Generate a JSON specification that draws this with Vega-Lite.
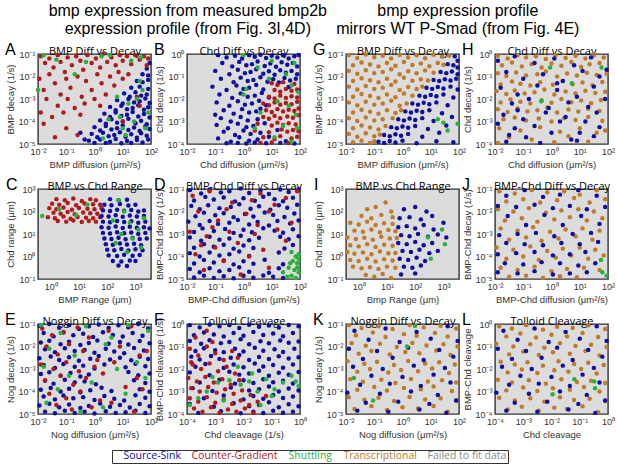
{
  "$schema": "https://vega.github.io/schema/vega-lite/v6.json",
  "padding": {"left": 4, "top": 3, "right": 0, "bottom": 0},
  "datasets": {
    "pts": [
      {"p": "A", "c": "Source-Sink", "x": [-0.2,0,0.2,0.4,0.55,0.75,0.95,1.15,1.3,1.5,1.7,1.9], "y": [-4.85,-4.95,-4.8,-4.95,-4.9,-4.78,-4.97,-4.87,-4.96,-4.82,-4.93,-4.8]},
      {"p": "A", "c": "Source-Sink", "x": [-0.1,0.1,0.3,0.5,0.7,0.9,1.1,1.3,1.5,1.65,1.85,-0.5,-0.35], "y": [-4.55,-4.7,-4.5,-4.65,-4.6,-4.48,-4.68,-4.57,-4.72,-4.52,-4.63,-4.5,-4.8]},
      {"p": "A", "c": "Source-Sink", "x": [0,0.2,0.4,0.6,0.8,1,1.2,1.4,1.6,1.8,1.95], "y": [-4.25,-4.4,-4.2,-4.35,-4.3,-4.18,-4.38,-4.27,-4.42,-4.22,-4.33]},
      {"p": "A", "c": "Source-Sink", "x": [0.2,0.4,0.6,0.8,1,1.2,1.45,1.65,1.85,0.35,0.55,0.75,0.95,1.15,1.35,1.55,1.75,1.95], "y": [-3.95,-4.1,-3.9,-4.05,-4,-3.88,-4.08,-3.97,-4.12,-3.65,-3.8,-3.6,-3.75,-3.7,-3.58,-3.78,-3.67,-3.82]},
      {"p": "A", "c": "Source-Sink", "x": [0.55,0.75,0.95,1.15,1.35,1.55,1.75,1.9,0.8,1,1.2,1.4,1.6,1.8,1.95], "y": [-3.35,-3.5,-3.3,-3.45,-3.4,-3.28,-3.48,-3.37,-3.05,-3.2,-3,-3.15,-3.1,-2.98,-3.18]},
      {"p": "A", "c": "Source-Sink", "x": [1.05,1.25,1.45,1.65,1.85,1.3,1.6,1.9,1.5,1.7,1.9,1.7,1.9,1.85,1.95], "y": [-2.75,-2.9,-2.7,-2.85,-2.8,-2.5,-2.45,-2.55,-2.2,-2.25,-2.15,-1.9,-1.95,-1.65,-1.4]},
      {"p": "A", "c": "Counter-Gradient", "x": [-1.9,-1.75,-1.6,-1.45,-1.3,-1.2,-1.05,-0.95,-0.8,-0.65,-0.5,-0.4,-0.25,-0.1,0.05], "y": [-1.1,-1.4,-1.2,-1.6,-1.05,-1.35,-1.8,-1.15,-1.5,-1.1,-1.3,-1.7,-1.05,-1.4,-1.2]},
      {"p": "A", "c": "Counter-Gradient", "x": [0.2,0.3,0.45,0.6,0.75,0.9,1,1.15,1.3,1.45,1.6,1.75,1.9,1.85], "y": [-1.6,-1,-1.35,-1.15,-1.5,-1.05,-1.3,-1.1,-1.45,-1.05,-1.25,-1.1,-1.2,-1.5]},
      {"p": "A", "c": "Counter-Gradient", "x": [-1.95,-1.8,-1.6,-1.4,-1.2,-1,-0.85,-0.6,-0.45,-0.3,-0.1,0.1,0.25,0.4,0.55,0.7,0.85,1,1.2], "y": [-2.1,-2.6,-1.9,-2.3,-2.8,-2.1,-2.5,-2,-2.9,-2.2,-2.6,-1.9,-2.3,-2.8,-2,-2.4,-1.8,-2.1,-1.9]},
      {"p": "A", "c": "Counter-Gradient", "x": [-1.7,-1.3,-0.95,-0.7,-0.35,0,0.2,-1.9,-1.5,-1.1,-0.5,-1.8,-1,-0.6,-1.4,1.5,1,1.6], "y": [-3,-3.3,-3,-3.4,-3.2,-3,-3.3,-3.6,-3.8,-3.6,-3.7,-4.1,-4.3,-4.6,-4.7,-2.9,-4,-3.3]},
      {"p": "A", "c": "Shuttling", "x": [-1.8,-1.35,-0.3,0.25,0.55,1.3,1.65,-0.7,-2,0.9,1.2,1.5,1.7,1.4,0.5,1.8,1.1,0.3,1.9,1.6,1,0.8], "y": [-1.05,-1.25,-1.35,-1.1,-1.05,-1.3,-1.15,-1.9,-2.6,-3.8,-3.2,-3,-2.6,-4,-3.9,-4.3,-4.6,-4.75,-3.6,-2.2,-4.3,-2.9]},

      {"p": "B", "c": "Source-Sink", "x": [-0.9,-0.6,-0.3,-0.05,0.2,0.4,0.6,0.8,1,1.2,1.4,1.6,1.8,1.95], "y": [-0.05,-0.15,-0.08,-0.2,-0.05,-0.12,-0.03,-0.18,-0.08,-0.15,-0.05,-0.2,-0.1,-0.04]},
      {"p": "B", "c": "Source-Sink", "x": [-0.75,-0.4,-0.15,0.1,0.3,0.5,0.75,0.95,1.15,1.35,1.55,1.75,1.9], "y": [-0.4,-0.55,-0.35,-0.5,-0.45,-0.33,-0.53,-0.42,-0.57,-0.37,-0.48,-0.4,-0.55]},
      {"p": "B", "c": "Source-Sink", "x": [-1,-0.5,-0.2,0.05,0.25,0.45,0.7,0.9,1.1,1.3,1.5,1.7,1.9], "y": [-0.75,-0.9,-0.7,-0.85,-0.8,-0.68,-0.88,-0.77,-0.92,-0.72,-0.83,-0.75,-0.9]},
      {"p": "B", "c": "Source-Sink", "x": [-0.8,-0.35,-0.1,0.15,0.35,0.6,0.85,1.05,1.25,1.45,1.65,1.85], "y": [-1.1,-1.25,-1.05,-1.2,-1.15,-1.03,-1.23,-1.12,-1.27,-1.07,-1.18,-1.1]},
      {"p": "B", "c": "Source-Sink", "x": [-1.1,-0.6,-0.25,0,0.2,0.45,0.7,1.6,1.95,-0.85,-0.4,-0.1,0.15,0.4,0.65,0.9], "y": [-1.45,-1.6,-1.4,-1.55,-1.5,-1.38,-1.58,-1.47,-1.62,-1.8,-1.95,-1.75,-1.9,-1.85,-1.73,-1.93]},
      {"p": "B", "c": "Source-Sink", "x": [-0.95,-0.5,-0.2,0.05,0.3,0.55,0.8,-0.7,-0.35,-0.05,0.2,0.45,-1,0.6], "y": [-2.15,-2.3,-2.1,-2.25,-2.2,-2.08,-2.28,-2.5,-2.65,-2.45,-2.6,-2.55,-2.7,-2.43]},
      {"p": "B", "c": "Source-Sink", "x": [-0.8,-0.45,-0.1,0.15,0.5,-0.95,-0.55,-0.2,0.1,0.35,0.75,-0.7,-0.3,0,0.25,0.6,1.2], "y": [-2.85,-3,-2.8,-2.95,-2.9,-3.15,-3.3,-3.1,-3.25,-3.2,-3.08,-3.45,-3.6,-3.4,-3.55,-3.5,-3.38]},
      {"p": "B", "c": "Source-Sink", "x": [-0.9,-0.45,-0.15,0.2,0.5,0.9,1.5,-0.6,-0.2,0.1,0.4,0.8,1.3,1.8], "y": [-3.75,-3.9,-3.7,-3.85,-3.8,-3.68,-3.88,-3.97,-3.95,-3.98,-3.93,-3.97,-3.95,-3.98]},
      {"p": "B", "c": "Counter-Gradient", "x": [1,1.2,1.4,1.8,1.1,1.3,1.5,1.7,1.9,0.9,1.1,1.3,1.5,1.7,1.9,0.7,0.9,1.1,1.3,1.5,1.7,1.9], "y": [-1.3,-1.38,-1.25,-1.33,-1.6,-1.68,-1.55,-1.63,-1.58,-1.9,-1.98,-1.85,-1.95,-1.88,-1.93,-2.2,-2.28,-2.15,-2.25,-2.18,-2.23,-2.12]},
      {"p": "B", "c": "Counter-Gradient", "x": [0.8,1,1.2,1.4,1.6,1.8,1.95,0.7,0.9,1.1,1.3,1.55,1.75,1.95], "y": [-2.5,-2.58,-2.45,-2.55,-2.48,-2.53,-2.42,-2.8,-2.88,-2.75,-2.85,-2.78,-2.83,-2.72]},
      {"p": "B", "c": "Counter-Gradient", "x": [0.5,1,1.2,1.4,1.6,1.85,0.4,0.9,1.35,1.55,1.75,1.95,0.7,1.1,1.3,1.7,1.9,0.6,1,1.6], "y": [-3.1,-3.18,-3.05,-3.15,-3.08,-3.13,-3.4,-3.48,-3.35,-3.45,-3.38,-3.43,-3.7,-3.78,-3.65,-3.75,-3.68,-3.95,-3.93,-3.96]},
      {"p": "B", "c": "Shuttling", "x": [0,0.5,1,1.5,1.8,0.9,1.7,0.1,1.95,1.2,1.6,1.85,0.6,1.4,1.9,1.1,0.4,1.7,0], "y": [-0.05,-0.6,-0.3,-0.9,-0.4,-1.1,-1.4,-1.55,-1.7,-2.1,-2.3,-2.7,-2.6,-3.2,-3.3,-3.7,-3.3,-3.9,-1.8]},

      {"p": "C", "c": "Counter-Gradient", "x": [0.2,0.5,0.8,1.1,1.4,1.6,0.05,0.3,0.6,0.9,1.2,1.5,1.75], "y": [2.55,2.5,2.58,2.47,2.55,2.5,2.35,2.3,2.38,2.28,2.36,2.32,2.3]},
      {"p": "C", "c": "Counter-Gradient", "x": [-0.05,0.2,0.45,0.75,1,1.3,1.55,1.8,0.1,0.35,0.6,0.85,1.15,1.4,1.65], "y": [2.15,2.1,2.18,2.08,2.16,2.12,2.1,2.15,1.95,1.9,1.98,1.88,1.96,1.92,1.9]},
      {"p": "C", "c": "Counter-Gradient", "x": [-0.1,0.15,0.45,0.7,0.95,1.25,1.5,1.75,0.25,0.55,0.8,1.1,1.35,1.6], "y": [1.75,1.7,1.78,1.68,1.76,1.72,1.7,1.75,1.58,1.55,1.6,1.53,1.58,1.55]},
      {"p": "C", "c": "Source-Sink", "x": [2.1,2.4,2.7,1.9,2.15,2.45,2.75,3,1.85,2.1,2.35,2.6,2.85,3.1,3.3,1.8,2.05,2.3,2.55,2.8,3.05,3.3], "y": [2.55,2.5,2.52,2.3,2.28,2.33,2.27,2.3,2.05,2.02,2.08,2.03,2.07,2,2.05,1.8,1.78,1.83,1.77,1.82,1.78,1.8]},
      {"p": "C", "c": "Source-Sink", "x": [1.85,2.1,2.35,2.6,2.85,3.1,3.35,1.8,2.05,2.3,2.55,2.8,3.05,3.3,3.5], "y": [1.55,1.52,1.58,1.53,1.57,1.5,1.55,1.3,1.28,1.33,1.27,1.32,1.28,1.3,1.25]},
      {"p": "C", "c": "Source-Sink", "x": [1.85,2.1,2.35,2.6,2.85,3.1,3.35,1.9,2.15,2.4,2.65,2.9,3.15,3.4], "y": [1.05,1.02,1.08,1.03,1.07,1,1.05,0.8,0.78,0.83,0.77,0.82,0.78,0.8]},
      {"p": "C", "c": "Source-Sink", "x": [1.95,2.2,2.45,2.7,2.95,3.2,2,2.25,2.5,2.75,3,3.25,2.05,2.35,2.6,2.9,3.15,2.2,2.5,2.8,3,2.4,2.7], "y": [0.55,0.52,0.58,0.53,0.57,0.5,0.3,0.28,0.33,0.27,0.32,0.28,0.05,0.02,0.08,0.03,0.07,-0.2,-0.22,-0.18,-0.2,-0.4,-0.42]},
      {"p": "C", "c": "Shuttling", "x": [-0.3,0.3,0.9,1.3,2.4,2.6,2.2,2.8,3.1,2.5,2.9,2.3,3.2,2.7,3.3], "y": [1.8,2.1,1.85,2.3,2.5,2,1.6,1.5,1.2,1,0.8,0.6,0.4,0.2,1.7]},

      {"p": "D", "c": "Source-Sink", "x": [-1.9,-1.5,-1.2,-0.8,-0.5,-0.1,0.2,0.6,0.9,1.3,1.6,1.95,-1.75,-1.35,-1.05,-0.7,-0.3,0,0.4,0.7,1.1,1.4,1.75], "y": [-1.05,-1.2,-1.02,-1.15,-1.1,-0.98,-1.18,-1.07,-1.22,-1.02,-1.13,-1,-1.51,-1.35,-1.47,-1.38,-1.55,-1.41,-1.52,-1.34,-1.45,-1.54,-1.39]},
      {"p": "D", "c": "Source-Sink", "x": [-1.85,-1.55,-1.25,-0.85,-0.45,-0.15,0.25,0.55,0.95,1.25,1.55,1.9,-1.7,-1.4,-1,-0.7,-0.35,0.05,0.35,0.75,1.05,1.45,1.8], "y": [-1.75,-1.9,-1.72,-1.85,-1.8,-1.68,-1.88,-1.77,-1.92,-1.72,-1.83,-1.7,-2.21,-2.05,-2.17,-2.08,-2.25,-2.11,-2.22,-2.04,-2.15,-2.24,-2.09]},
      {"p": "D", "c": "Source-Sink", "x": [-1.95,-1.55,-1.2,-0.9,-0.5,-0.2,0.2,0.5,0.9,1.2,1.65,1.95,-1.75,-1.45,-1.05,-0.65,-0.35,0,0.3,0.7,1.1,1.4,1.75], "y": [-2.45,-2.6,-2.42,-2.55,-2.5,-2.38,-2.58,-2.47,-2.62,-2.42,-2.53,-2.4,-2.91,-2.75,-2.87,-2.78,-2.95,-2.81,-2.92,-2.74,-2.85,-2.94,-2.79]},
      {"p": "D", "c": "Source-Sink", "x": [-1.9,-1.5,-1.2,-0.85,-0.5,-0.1,0.2,0.55,1.3,1.6,1.95,-1.75,-1.4,-1.05,-0.7,-0.35,0,0.35,1.45,1.75], "y": [-3.15,-3.3,-3.12,-3.25,-3.2,-3.08,-3.28,-3.17,-3.12,-3.23,-3.1,-3.61,-3.45,-3.57,-3.48,-3.65,-3.51,-3.62,-3.64,-3.49]},
      {"p": "D", "c": "Source-Sink", "x": [-1.9,-1.55,-1.2,-0.85,-0.5,-0.15,0.2,1.25,-1.75,-1.4,-1.05,-0.7,-0.35,0,0.35,0.75,1.4], "y": [-3.85,-4,-3.82,-3.95,-3.9,-3.78,-3.98,-3.82,-4.31,-4.15,-4.27,-4.18,-4.35,-4.21,-4.32,-4.14,-4.34]},
      {"p": "D", "c": "Source-Sink", "x": [-1.9,-1.55,-1.2,-0.85,-0.5,-0.15,0.2,0.9,1.25,-1.75,-1.4,-1.05,-0.7,-0.35,0,0.35,0.7,1.05,1.4], "y": [-4.55,-4.7,-4.52,-4.65,-4.6,-4.48,-4.68,-4.72,-4.52,-4.93,-4.85,-4.95,-4.88,-4.97,-4.86,-4.94,-4.84,-4.9,-4.95]},
      {"p": "D", "c": "Counter-Gradient", "x": [-1.8,-1.2,-0.4,0.6,1.5,1.9,-1.6,-0.9,0.1,0.9,1.7,-1.9,-1.3,-0.5,0.4,1.2,-1,-0.2,0.7,1.5,-1.7,-0.7,0.2,-1.4,-0.1,0.9,-1.1,0.3,-0.6,1.1,-1.5,0.5], "y": [-1.3,-1.1,-1.6,-1.2,-1.4,-1.1,-2,-2.4,-2.1,-2,-2.5,-2.9,-3.1,-2.9,-3,-2.8,-3.6,-3.4,-3.7,-3.3,-3.9,-4.2,-4,-4.6,-4.8,-4.5,-2.7,-1.5,-1.9,-1.7,-3.5,-2.6]},
      {"p": "D", "c": "Shuttling", "x": [1.7,1.85,1.95,1.75,1.9,1.6,1.8,1.95,1.7,1.85,1.55,1.9,1.65,1.95,1.4], "y": [-3.8,-4,-3.9,-4.2,-4.3,-4.5,-4.6,-4.7,-4.85,-4.95,-4.9,-4.5,-4.3,-4.1,-4.7]},

      {"p": "E", "c": "Source-Sink", "x": [-1.95,-1.6,-1.25,-0.9,-0.55,-0.2,0.15,0.5,0.85,1.2,1.55,1.9,-1.8,-1.45,-1.1,-0.75,-0.4,-0.05,0.3,0.65,1,1.35,1.7], "y": [-1.08,-1,-1.17,-1.05,-1.22,-1.1,-1.02,-1.18,-1.06,-1.14,-1,-1.2,-1.4,-1.55,-1.38,-1.5,-1.43,-1.58,-1.37,-1.49,-1.56,-1.4,-1.52]},
      {"p": "E", "c": "Source-Sink", "x": [-1.9,-1.6,-1.2,-0.9,-0.5,-0.2,0.1,0.5,0.9,1.2,1.6,1.95,-1.75,-1.4,-1.05,-0.7,-0.35,0,0.4,0.7,1.05,1.4,1.75], "y": [-1.82,-1.74,-1.9,-1.79,-1.93,-1.84,-1.73,-1.88,-1.8,-1.91,-1.76,-1.86,-2.12,-2.25,-2.08,-2.2,-2.15,-2.28,-2.1,-2.22,-2.3,-2.07,-2.18]},
      {"p": "E", "c": "Source-Sink", "x": [-1.95,-1.55,-1.25,-0.9,-0.55,-0.15,0.15,0.55,0.9,1.3,1.6,1.9,-1.8,-1.4,-1.1,-0.7,-0.4,0,0.35,1.1,1.45,1.8], "y": [-2.52,-2.44,-2.6,-2.48,-2.63,-2.54,-2.42,-2.58,-2.5,-2.61,-2.46,-2.56,-2.82,-2.95,-2.78,-2.9,-2.85,-2.98,-2.8,-2.92,-2.77,-2.88]},
      {"p": "E", "c": "Source-Sink", "x": [-1.9,-1.6,-1.2,-0.85,-0.5,-0.2,1.2,1.55,1.95,-1.75,-1.45,-1.05,-0.7,-0.35,0.05,1.4,1.8], "y": [-3.22,-3.14,-3.3,-3.18,-3.33,-3.24,-3.13,-3.28,-3.2,-3.52,-3.65,-3.48,-3.6,-3.55,-3.68,-3.5,-3.62]},
      {"p": "E", "c": "Source-Sink", "x": [-1.9,-1.55,-1.2,-0.9,-0.5,-0.15,0.25,0.6,1.6,1.95,-1.8,-1.4,-1.1,-0.75,-0.4,0,0.35,0.7,1.05,1.45,1.8], "y": [-3.92,-3.84,-4,-3.88,-4.03,-3.94,-3.83,-3.98,-3.9,-4.01,-4.22,-4.35,-4.18,-4.3,-4.25,-4.38,-4.2,-4.32,-4.4,-4.17,-4.28]},
      {"p": "E", "c": "Source-Sink", "x": [-1.95,-1.6,-1.25,-0.9,-0.5,-0.2,0.2,0.55,0.9,1.25,1.6,1.95,-1.75,-1.4,-1.05,-0.7,-0.35,0,0.4,0.75,1.1,1.45,1.8], "y": [-4.62,-4.54,-4.7,-4.58,-4.73,-4.64,-4.53,-4.68,-4.6,-4.71,-4.56,-4.66,-4.9,-4.97,-4.86,-4.95,-4.9,-4.98,-4.88,-4.95,-4.92,-4.85,-4.96]},
      {"p": "E", "c": "Counter-Gradient", "x": [-1.85,-1.5,-1.1,-0.6,-0.2,0.5,1.3,-1.7,-1.3,-0.9,-0.4,0.1,0.9,1.6,-1.9,-1.45,-1,-0.55,0,0.7,1.5,-1.75,-1.2,-0.75,-0.3,0.3,1.1,-1.6,-1,-0.5,0.2,1.7,-1.35,-0.8,-0.1,0.6,1.4,1.85], "y": [-1.2,-1.5,-1.35,-1.15,-1.6,-1.3,-1.1,-2,-2.35,-1.9,-2.2,-2.6,-2,-2.4,-2.8,-3,-2.7,-3.1,-2.9,-2.7,-3.4,-3.5,-3.3,-3.7,-3.4,-3.2,-3.8,-4.1,-4.3,-4,-4.4,-3.9,-4.6,-4.8,-4.7,-4.5,-4.9,-2.2]},
      {"p": "E", "c": "Shuttling", "x": [-1.9,-1.2,-0.3,0.6,1.2,1.9,-1.6,-0.7,0.4,1.5,-1.8,-0.9,0.8,1.8,-1.3,-0.1,1.1,-1.7,-0.5,0.3], "y": [-1.05,-1.4,-1.1,-1.6,-1.05,-1.3,-2.1,-2.4,-1.9,-2.7,-2.9,-3.3,-3,-3.4,-3.9,-3.6,-4.1,-4.5,-4.9,-4.7]},

      {"p": "F", "c": "Source-Sink", "x": [-3.9,-3.55,-3.2,-2.85,-2.5,-2.15,-1.8,-1.45,-1.1,-0.75,-0.4,-0.05,-3.75,-3.4,-3.05,-2.7,-2.35,-2,-1.65,-1.3,-0.95,-0.6,-0.25], "y": [-0.05,-0.15,-0.02,-0.1,-0.05,-0.18,-0.03,-0.12,-0.07,-0.16,-0.04,-0.1,-0.5,-0.38,-0.47,-0.55,-0.4,-0.52,-0.36,-0.49,-0.42,-0.54,-0.4]},
      {"p": "F", "c": "Source-Sink", "x": [-3.9,-3.5,-3.2,-2.8,-2.5,-2.1,-1.8,-1.4,-1.1,-0.7,-0.4,-0.05,-3.7,-3.4,-3,-2.7,-2.3,-2,-1.6,-1.3,-0.9,-0.6,-0.2], "y": [-0.75,-0.88,-0.72,-0.85,-0.8,-0.68,-0.9,-0.77,-0.86,-0.73,-0.83,-0.78,-1.2,-1.08,-1.17,-1.25,-1.1,-1.22,-1.06,-1.19,-1.12,-1.24,-1.1]},
      {"p": "F", "c": "Source-Sink", "x": [-3.85,-3.55,-3.15,-2.85,-2.45,-2.15,-1.8,-1.45,-1.1,-0.75,-0.4,-0.05,-3.7,-3.35,-2.7,-2.35,-2,-1.6,-1.3,-0.95,-0.6,-0.25], "y": [-1.45,-1.58,-1.42,-1.55,-1.5,-1.38,-1.6,-1.47,-1.56,-1.43,-1.53,-1.48,-1.9,-1.78,-1.95,-1.8,-1.92,-1.76,-1.89,-1.82,-1.94,-1.8]},
      {"p": "F", "c": "Source-Sink", "x": [-3.9,-3.2,-2.5,-2.15,-1.8,-1.45,-1.1,-0.75,-0.4,-0.05,-3.55,-2.85,-2.3,-2,-1.65,-1.3,-0.95,-0.6,-0.25], "y": [-2.15,-2.28,-2.12,-2.25,-2.2,-2.08,-2.3,-2.17,-2.26,-2.13,-2.6,-2.48,-2.65,-2.5,-2.62,-2.46,-2.59,-2.52,-2.64]},
      {"p": "F", "c": "Source-Sink", "x": [-3.8,-3.1,-2.45,-1.8,-1.45,-1.1,-0.75,-0.4,-0.05,-3.4,-2.7,-2,-1.65,-1.3,-0.95,-0.6,-0.25], "y": [-2.85,-2.98,-2.82,-2.95,-2.9,-2.78,-3,-2.87,-2.96,-3.3,-3.18,-3.35,-3.2,-3.32,-3.16,-3.29,-3.22]},
      {"p": "F", "c": "Source-Sink", "x": [-3.9,-3.05,-2.35,-1.8,-1.45,-1.1,-0.75,-0.4,-0.05,-3.6,-2.8,-2.1,-1.65,-1.3,-0.95,-0.6,-0.25], "y": [-3.55,-3.68,-3.52,-3.65,-3.6,-3.48,-3.7,-3.57,-3.66,-3.95,-3.88,-3.97,-3.9,-3.96,-3.86,-3.94,-3.9]},
      {"p": "F", "c": "Counter-Gradient", "x": [-3.9,-3.6,-3.3,-3,-2.7,-3.8,-3.5,-3.2,-2.9,-2.6,-2.3,-3.95,-3.65,-3.35,-3.05,-2.75,-2.45,-2.15,-3.85,-3.55,-3.25,-2.95,-2.65,-2.35,-2.05,-1.75], "y": [-1.1,-1.4,-1,-1.3,-1.6,-1.8,-2,-1.75,-2.1,-1.9,-2.2,-2.4,-2.55,-2.35,-2.6,-2.45,-2.7,-2.5,-2.85,-3,-2.8,-3.05,-2.9,-3.1,-2.95,-3.15]},
      {"p": "F", "c": "Counter-Gradient", "x": [-3.9,-3.6,-3.3,-3,-2.7,-2.4,-2.1,-1.8,-1.5,-3.75,-3.45,-3.15,-2.85,-2.55,-2.25,-1.95,-1.65,-3.7,-3.3,-2.4,-3.85,-3.1,-2.2,-1.2], "y": [-3.3,-3.45,-3.25,-3.5,-3.35,-3.55,-3.4,-3.6,-3.45,-3.75,-3.9,-3.7,-3.95,-3.8,-3.9,-3.75,-3.95,-0.6,-0.3,-1.2,-1.7,-0.8,-1.5,-3.2]},
      {"p": "F", "c": "Shuttling", "x": [-3.9,-3.3,-2.9,-2.5,-2.1,-1.8,-1.5,-1.2,-0.9,-0.6,-0.3,-0.05,-3.6,-2.7,-1.7,-1,-0.15,-2.2,-3.1,-1.4], "y": [-3.6,-3,-2.6,-2.5,-2.7,-2.55,-3,-2.45,-2.9,-2.6,-2.3,-2.75,-3.3,-3.4,-2.2,-3.2,-2.55,-1.9,-2.35,-3.6]},

      {"p": "G", "c": "Transcriptional", "x": [-1.9,-1.6,-1.3,-1,-0.7,-0.4,-0.1,0.2,0.5,0.8,1.1,1.4,1.65,-1.75,-1.45,-1.15,-0.85,-0.55,-0.25,0.05,0.35,0.65,0.95,1.25,1.45], "y": [-1.05,-1.18,-1.02,-1.14,-1.08,-1.2,-1.04,-1.15,-1.06,-1.19,-1.03,-1.12,-1.08,-1.5,-1.38,-1.47,-1.55,-1.4,-1.52,-1.36,-1.49,-1.42,-1.54,-1.4,-1.48]},
      {"p": "G", "c": "Transcriptional", "x": [-1.9,-1.6,-1.3,-1,-0.7,-0.4,-0.1,0.2,0.5,0.8,1.1,-1.75,-1.45,-1.15,-0.85,-0.55,-0.25,0.05,0.35,0.65,0.9], "y": [-1.75,-1.88,-1.72,-1.85,-1.8,-1.68,-1.9,-1.77,-1.86,-1.73,-1.83,-2.2,-2.08,-2.17,-2.25,-2.1,-2.22,-2.06,-2.19,-2.12,-2.18]},
      {"p": "G", "c": "Transcriptional", "x": [-1.9,-1.6,-1.3,-1,-0.7,-0.4,-0.1,0.2,0.5,0.7,-1.75,-1.45,-1.15,-0.85,-0.55,-0.25,0.05,0.35], "y": [-2.45,-2.58,-2.42,-2.55,-2.5,-2.38,-2.6,-2.47,-2.56,-2.45,-2.9,-2.78,-2.87,-2.95,-2.8,-2.92,-2.76,-2.85]},
      {"p": "G", "c": "Transcriptional", "x": [-1.9,-1.6,-1.3,-1,-0.7,-0.4,-0.1,0.15,-1.75,-1.45,-1.15,-0.85,-0.55,-0.25,-0.05,-1.9,-1.6,-1.3,-1,-0.7,-0.35], "y": [-3.15,-3.28,-3.12,-3.25,-3.2,-3.08,-3.3,-3.2,-3.6,-3.48,-3.57,-3.65,-3.5,-3.62,-3.5,-3.85,-3.98,-3.82,-3.95,-3.9,-3.85]},
      {"p": "G", "c": "Transcriptional", "x": [-1.75,-1.45,-1.15,-0.85,-0.6,-1.9,-1.6,-1.3,-1,-0.8,-1.75,-1.45,-1.15,-1], "y": [-4.3,-4.18,-4.27,-4.35,-4.2,-4.55,-4.68,-4.52,-4.65,-4.58,-4.92,-4.85,-4.95,-4.88]},
      {"p": "G", "c": "Source-Sink", "x": [1.85,1.95,1.6,1.8,1.95,1.35,1.55,1.75,1.95,1.1,1.3,1.5,1.7,1.9,0.85,1.05,1.25,1.45,1.7,1.95], "y": [-1.1,-1.3,-1.45,-1.5,-1.6,-1.8,-1.85,-1.78,-1.9,-2.15,-2.2,-2.12,-2.18,-2.1,-2.5,-2.55,-2.47,-2.53,-2.45,-2.58]},
      {"p": "G", "c": "Source-Sink", "x": [0.6,0.8,1,1.2,1.45,1.8,0.35,0.55,0.75,0.95,1.2,1.6,0.1,0.3,0.5,0.7,0.95,1.4,-0.15,0.05,0.25,0.45,0.7,1.1,1.75], "y": [-2.85,-2.9,-2.82,-2.88,-2.8,-2.93,-3.2,-3.25,-3.17,-3.23,-3.15,-3.28,-3.55,-3.6,-3.52,-3.58,-3.5,-3.63,-3.9,-3.95,-3.87,-3.93,-3.85,-3.98,-3.8]},
      {"p": "G", "c": "Source-Sink", "x": [-0.4,-0.2,0,0.2,0.45,0.9,1.55,-0.65,-0.45,-0.25,-0.05,0.2,0.7,1.3,-0.85,-0.65,-0.45,-0.25,0,0.5,1.2,1.8], "y": [-4.25,-4.3,-4.22,-4.28,-4.2,-4.33,-4.18,-4.6,-4.65,-4.57,-4.63,-4.55,-4.68,-4.5,-4.9,-4.95,-4.87,-4.93,-4.85,-4.97,-4.88,-4.92]},
      {"p": "G", "c": "Shuttling", "x": [1.25,1.45,1.6,1.95], "y": [-3.9,-4.05,-4.4,-4.1]},

      {"p": "H", "c": "Transcriptional", "x": [-1.9,-1.55,-1.2,-0.9,-0.55,-0.2,0.15,0.5,0.85,1.2,1.5,1.85,-1.75,-1.4,-1.05,-0.7,-0.35,0,0.35,0.7,1.05,1.35,1.7], "y": [-0.08,-0.2,-0.05,-0.15,-0.1,-0.22,-0.04,-0.18,-0.08,-0.2,-0.06,-0.16,-0.5,-0.38,-0.55,-0.45,-0.6,-0.42,-0.52,-0.36,-0.58,-0.46,-0.4]},
      {"p": "H", "c": "Transcriptional", "x": [-1.9,-1.6,-1.25,-0.9,-0.5,-0.2,0.2,0.55,0.9,1.25,1.6,1.95,-1.8,-1.4,-1.1,-0.75,-0.4,0.05,0.4,0.75,1.1,1.45,1.8], "y": [-0.85,-0.98,-0.82,-0.95,-0.9,-0.78,-1,-0.87,-0.96,-0.83,-0.93,-0.88,-1.35,-1.22,-1.32,-1.4,-1.25,-1.37,-1.2,-1.34,-1.27,-1.39,-1.24]},
      {"p": "H", "c": "Transcriptional", "x": [-1.95,-1.6,-1.3,-0.95,-0.6,-0.25,0.1,0.5,0.85,1.2,1.55,1.9,-1.8,-1.45,-1.1,-0.75,-0.35,0,0.35,0.7,1.05,1.4,1.75], "y": [-1.65,-1.78,-1.62,-1.75,-1.7,-1.58,-1.8,-1.67,-1.76,-1.63,-1.73,-1.68,-2.15,-2.02,-2.12,-2.2,-2.05,-2.17,-2,-2.14,-2.07,-2.19,-2.04]},
      {"p": "H", "c": "Transcriptional", "x": [-1.9,-1.55,-1.2,-0.85,-0.5,-0.15,0.2,0.6,0.95,1.3,1.7,-1.7,-1.3,-0.9,-0.45,0,0.45,0.85,1.3,1.8], "y": [-2.45,-2.58,-2.42,-2.55,-2.5,-2.38,-2.6,-2.47,-2.56,-2.43,-2.53,-2.9,-2.82,-2.95,-2.87,-3,-2.85,-2.93,-2.8,-2.97]},
      {"p": "H", "c": "Transcriptional", "x": [-1.85,-1.1,-0.4,0.3,1,1.6,-1.5,-0.7,0.6,1.3,-1.9,0.1,1.9], "y": [-3.3,-3.4,-3.25,-3.45,-3.3,-3.5,-3.7,-3.8,-3.65,-3.9,-3.95,-3.92,-3.4]},
      {"p": "H", "c": "Source-Sink", "x": [-1.9,-1.3,-0.6,0.1,0.8,1.4,1.95,-1.6,-1,-0.3,0.4,1.1,1.7,-1.8,-1.2,-0.5,0.2,0.9,1.5,-1.4,-0.8,-0.1,0.6,1.3,1.9,-1.7,-1,-0.2,0.5,1.2,-1.9,-1.3,-0.6,0.3,1,1.7,-1.5,-0.9,0,0.7,1.5,-1.6,-0.4,0.9,-1.2,0.2,1.6], "y": [-0.3,-0.1,-0.4,-0.2,-0.5,-0.15,-0.7,-0.8,-1.1,-0.9,-1.2,-0.75,-1,-1.5,-1.8,-1.4,-1.6,-1.9,-1.45,-2.2,-2,-2.4,-2.15,-2.35,-2,-2.7,-2.9,-2.6,-2.8,-3,-3.1,-3.3,-3.2,-3,-3.5,-3.25,-3.6,-3.7,-3.5,-3.8,-3.65,-3.9,-3.95,-3.85,-2.5,-1.3,-2.6]},
      {"p": "H", "c": "Shuttling", "x": [-0.05,0.72,-0.36,1.77], "y": [-0.6,-1.3,-2.1,-0.6]},

      {"p": "I", "c": "Transcriptional", "x": [0.95,0.3,0.6,1.15,0.1,0.45,0.8,1.2,-0.3,0,0.3,0.6,0.9,1.2,-0.15,0.15,0.45,0.75,1.05,1.3], "y": [2.4,2.1,2.2,2,1.8,1.7,1.85,1.75,1.5,1.42,1.55,1.4,1.48,1.45,1.15,1.1,1.2,1.08,1.18,1.12]},
      {"p": "I", "c": "Transcriptional", "x": [-0.4,-0.1,0.2,0.5,0.8,1.1,1.35,-0.3,0,0.3,0.6,0.9,1.2,-0.4,-0.15,0.15,0.45,0.75,1.05,1.3], "y": [0.85,0.78,0.83,0.75,0.88,0.8,0.82,0.5,0.45,0.55,0.42,0.52,0.48,0.2,0.12,0.18,0.1,0.22,0.14,0.16]},
      {"p": "I", "c": "Transcriptional", "x": [-0.3,0,0.3,0.6,0.9,1.2,-0.2,0.1,0.4,0.7,1,1.3,0.25,0.55,0.85,1.15], "y": [-0.15,-0.2,-0.1,-0.22,-0.12,-0.18,-0.45,-0.52,-0.48,-0.55,-0.45,-0.5,-0.82,-0.9,-0.78,-0.95]},
      {"p": "I", "c": "Source-Sink", "x": [1.6,2,2.4,1.45,1.8,2.2,2.6,3,1.4,1.7,2,2.3,2.65,1.5,1.8,2.1,2.45,2.8,3.1], "y": [2.1,2.2,2,1.7,1.75,1.65,1.8,1.5,1.3,1.35,1.25,1.4,1.2,0.95,0.9,1,0.88,0.98,0.85]},
      {"p": "I", "c": "Source-Sink", "x": [1.4,1.7,2,2.3,2.6,1.55,1.85,2.15,2.5,2.8,1.45,1.75,2.05,2.35,1.6,1.9,2.2,1.5,2], "y": [0.6,0.55,0.65,0.5,0.6,0.25,0.2,0.3,0.15,0.25,-0.1,-0.15,-0.05,-0.2,-0.45,-0.5,-0.4,-0.8,-0.75]},
      {"p": "I", "c": "Shuttling", "x": [2.45,2.95,3.05,2.55], "y": [0.85,1.2,0.55,-0.1]},

      {"p": "J", "c": "Transcriptional", "x": [-1.85,-1.3,-0.7,-0.15,0.45,1,1.6,-1.6,-1,-0.4,0.2,0.8,1.35,1.9,-1.9,-1.35,-0.8,-0.2,0.35,0.95,1.5,-1.65,-1.05,-0.5,0.1,0.65,1.25,1.8], "y": [-1.1,-1.2,-1.05,-1.15,-1.1,-1.25,-1.05,-1.55,-1.45,-1.6,-1.5,-1.4,-1.6,-1.45,-1.9,-2,-1.85,-2.05,-1.95,-1.9,-2,-2.4,-2.3,-2.45,-2.35,-2.25,-2.4,-2.3]},
      {"p": "J", "c": "Transcriptional", "x": [-1.8,-1.2,-0.65,-0.05,0.5,1.1,1.7,-1.5,-0.9,-0.35,0.25,0.85,1.45,-1.95,-1.35,-0.75,-0.15,0.4,1,1.55,-1.6,-1,-0.45,0.15,0.7,1.3,1.85], "y": [-2.75,-2.85,-2.7,-2.9,-2.8,-2.75,-2.85,-3.25,-3.15,-3.3,-3.2,-3.1,-3.25,-3.6,-3.7,-3.55,-3.75,-3.65,-3.6,-3.7,-4.1,-4,-4.15,-4.05,-3.95,-4.1,-3.95]},
      {"p": "J", "c": "Transcriptional", "x": [-1.8,-1.2,-0.6,0,0.55,1.15,1.7,-1.5,-0.9,-0.3,0.3,0.9], "y": [-4.5,-4.6,-4.45,-4.65,-4.55,-4.5,-4.6,-4.9,-4.85,-4.95,-4.88,-4.92]},
      {"p": "J", "c": "Source-Sink", "x": [-1.6,-0.95,-0.3,0.3,0.95,1.6,-1.9,-1.25,-0.6,0.05,0.65,1.25,1.9,-1.55,-0.9,-0.25,0.4,1.05,1.7,-1.85,-1.2,-0.55,0.1,0.75,1.4], "y": [-1.3,-1.05,-1.35,-1.25,-1.05,-1.3,-1.75,-1.8,-1.7,-1.85,-1.75,-1.9,-1.8,-2.2,-2.6,-2.15,-2.6,-2.2,-2.55,-3.05,-3,-2.95,-3.1,-3,-2.95]},
      {"p": "J", "c": "Source-Sink", "x": [-1.6,-0.95,-0.3,0.35,1,1.65,-1.9,-1.25,-0.6,0.05,0.65,1.2,-1.65,-1,-0.35,0.3,0.95,1.55,-1.9,-1.2,-0.6,0.05,0.65,1.25], "y": [-3.4,-3.45,-3.5,-3.4,-3.45,-3.35,-3.9,-3.85,-3.8,-3.95,-3.9,-3.8,-4.3,-4.35,-4.25,-4.3,-4.4,-4.3,-4.7,-4.75,-4.65,-4.8,-4.75,-4.7]},
      {"p": "J", "c": "Shuttling", "x": [1.75,1.8,1.95], "y": [-4.15,-4.7,-4.85]},

      {"p": "K", "c": "Transcriptional", "x": [-1.9,-1.45,-0.85,-0.35,0.25,0.75,1.35,1.9,-1.65,-1.05,-0.6,0.05,0.5,1.15,1.6,-1.8,-1.3,-0.8,-0.2,0.35,0.85,1.45,1.95,-1.55,-1.1,-0.45,0.1,0.6,1.2,1.7], "y": [-1.05,-1.18,-1.1,-1.22,-1.04,-1.15,-1.08,-1.2,-1.5,-1.38,-1.58,-1.45,-1.52,-1.4,-1.56,-1.85,-1.97,-1.88,-2.02,-1.84,-1.96,-1.9,-2,-2.32,-2.2,-2.36,-2.24,-2.3,-2.18,-2.38]},
      {"p": "K", "c": "Transcriptional", "x": [-1.95,-1.35,-0.9,-0.3,0.2,0.8,1.3,1.85,-1.6,-1.15,-0.5,-0.05,0.55,1.05,1.65,-1.85,-1.4,-0.75,-0.25,0.3,0.9,1.4,1.9,-1.6,-1,-0.55,0.05,0.65,1.1,1.75], "y": [-2.65,-2.77,-2.68,-2.82,-2.64,-2.76,-2.7,-2.8,-3.12,-3,-3.16,-3.04,-3.1,-2.98,-3.18,-3.45,-3.57,-3.48,-3.62,-3.44,-3.56,-3.5,-3.6,-3.92,-3.8,-3.96,-3.84,-3.9,-3.78,-3.98]},
      {"p": "K", "c": "Transcriptional", "x": [-1.9,-1.35,-0.85,-0.3,0.25,0.8,1.35,1.9,-1.7,-1.1,-0.55,0,0.55,1.1,1.6], "y": [-4.25,-4.37,-4.28,-4.42,-4.24,-4.36,-4.3,-4.4,-4.78,-4.65,-4.82,-4.7,-4.76,-4.64,-4.9]},
      {"p": "K", "c": "Source-Sink", "x": [-1.7,-0.6,0.5,1.6,-1.2,-0.1,1,1.95,-1.9,-0.9,0.2,1.3,-1.4,-0.35,0.75,1.8,-1.75,-0.7,0.4,1.5,-1.1,0,1.1,-1.5,-0.45,0.65,1.7,-1.95,-0.8,0.3,1.25,-1.3,-0.15,0.95,1.9,-1.6,-0.5,0.6,1.55], "y": [-1.3,-1.2,-1.35,-1.1,-1.7,-1.8,-1.65,-1.75,-2.1,-2.2,-2.05,-2.15,-2.55,-2.5,-2.6,-2.45,-2.9,-3,-2.85,-2.95,-3.3,-3.35,-3.25,-3.7,-3.65,-3.75,-3.6,-4.05,-4.1,-4,-4.15,-4.5,-4.45,-4.55,-4.4,-4.85,-4.9,-4.8,-4.95]},
      {"p": "K", "c": "Shuttling", "x": [0.44,0.16,-1.72,-1.04], "y": [-1.09,-2,-3.4,-4.4]},

      {"p": "L", "c": "Transcriptional", "x": [-3.85,-3.4,-2.9,-2.3,-1.8,-1.25,-0.7,-0.1,-3.6,-3.1,-2.55,-2,-1.45,-0.9,-0.35,-3.95,-3.35,-2.75,-2.25,-1.7,-1.15,-0.6,-0.05,-3.5,-3,-2.45,-1.95,-1.35,-0.8,-0.3], "y": [-0.1,-0.2,-0.05,-0.25,-0.12,-0.18,-0.06,-0.22,-0.55,-0.42,-0.6,-0.48,-0.55,-0.4,-0.58,-0.88,-1,-0.9,-1.05,-0.86,-0.98,-0.92,-1.02,-1.35,-1.22,-1.38,-1.26,-1.32,-1.2,-1.4]},
      {"p": "L", "c": "Transcriptional", "x": [-3.8,-3.3,-2.85,-2.3,-1.75,-1.2,-0.7,-0.15,-3.55,-3.05,-2.5,-1.9,-1.4,-0.95,-0.4,-3.9,-3.4,-2.8,-2.2,-1.65,-1.1,-0.6,-0.1,-3.6,-3,-2.5,-1.95,-1.35,-0.85,-0.3], "y": [-1.68,-1.8,-1.7,-1.85,-1.66,-1.78,-1.72,-1.82,-2.15,-2.02,-2.18,-2.06,-2.12,-2,-2.2,-2.48,-2.6,-2.5,-2.65,-2.46,-2.58,-2.52,-2.62,-2.95,-2.82,-2.98,-2.86,-2.92,-2.8,-3]},
      {"p": "L", "c": "Transcriptional", "x": [-3.85,-3.3,-2.75,-2.25,-1.7,-1.2,-0.65,-0.1,-3.55,-3.05,-2.45,-1.9,-1.45,-0.9,-0.35], "y": [-3.28,-3.4,-3.3,-3.45,-3.26,-3.38,-3.32,-3.42,-3.8,-3.68,-3.85,-3.72,-3.78,-3.66,-3.92]},
      {"p": "L", "c": "Source-Sink", "x": [-3.7,-2.6,-1.5,-0.4,-3.2,-2.1,-1,-0.05,-3.9,-2.9,-1.8,-0.7,-3.4,-2.35,-1.25,-0.2,-3.75,-2.7,-1.6,-0.5,-3.1,-2,-0.9,-3.5,-2.45,-1.35,-0.3,-3.95,-2.8,-1.7,-0.75,-3.3,-2.15,-1.05,-0.1,-3.6,-2.5,-1.4,-0.45], "y": [-0.3,-0.2,-0.35,-0.1,-0.7,-0.8,-0.65,-0.75,-1.1,-1.2,-1.05,-1.15,-1.55,-1.5,-1.6,-1.45,-1.9,-2,-1.85,-1.95,-2.3,-2.35,-2.25,-2.7,-2.65,-2.75,-2.6,-3.05,-3.1,-3,-3.15,-3.5,-3.45,-3.55,-3.4,-3.85,-3.9,-3.8,-3.95]},
      {"p": "L", "c": "Shuttling", "x": [-1.19,-0.49,-0.46,-1.96], "y": [-2.46,-2.55,-2.86,-3.12]}
    ]
  },
  "data": {"name": "pts"},
  "transform": [{"flatten": ["x", "y"]}],
  "spacing": -15,
  "hconcat": [
    {
      "title": {"text": ["bmp expression from measured bmp2b", "expression profile (from Fig. 3I,4D)"], "anchor": "middle", "frame": "bounds", "dx": 32, "offset": 4, "fontSize": 16, "lineHeight": 18},
      "columns": 2,
      "spacing": {"row": 6, "column": -6},
      "concat": [
        {
          "title": "A",
          "transform": [{"filter": "datum.p == 'A'"}],
          "encoding": {
            "x": {"field": "x", "type": "quantitative", "scale": {"domain": [-2, 2]}, "axis": {"title": "BMP diffusion (μm²/s)", "values": [-2, -1, 0, 1, 2], "labelExpr": "'10' + (datum.value < 0 ? '⁻' : '') + ['⁰','¹','²','³','⁴','⁵'][abs(datum.value)]"}},
            "y": {"field": "y", "type": "quantitative", "scale": {"domain": [-5, -1]}, "axis": {"title": "BMP decay (1/s)", "values": [-5, -4, -3, -2, -1], "labelExpr": "'10' + (datum.value < 0 ? '⁻' : '') + ['⁰','¹','²','³','⁴','⁵'][abs(datum.value)]"}},
            "color": {"field": "c", "type": "nominal", "scale": {"domain": ["Source-Sink", "Counter-Gradient", "Shuttling", "Transcriptional", "Failed to fit data"], "range": ["#0e0ea3", "#b3181b", "#27b33a", "#c07a26", "#8a8a8a"]},
              "legend": {"orient": "bottom", "direction": "horizontal", "title": null, "encode": {"labels": {"update": {"fill": {"signal": "scale('color', datum.value)"}}}}}}
          },
          "layer": [
            {"mark": "circle", "transform": [{"filter": "datum.c != 'Shuttling'"}]},
            {"mark": "circle", "transform": [{"filter": "datum.c == 'Shuttling'"}], "encoding": {"x": {"field": "x", "type": "quantitative", "axis": {"orient": "top", "title": "BMP Diff vs Decay"}}}}
          ],
          "resolve": {"axis": {"x": "independent"}}
        },
        {
          "title": "B",
          "transform": [{"filter": "datum.p == 'B'"}],
          "encoding": {
            "x": {"field": "x", "type": "quantitative", "scale": {"domain": [-2, 2]}, "axis": {"title": "Chd diffusion (μm²/s)", "values": [-2, -1, 0, 1, 2], "labelExpr": "'10' + (datum.value < 0 ? '⁻' : '') + ['⁰','¹','²','³','⁴','⁵'][abs(datum.value)]"}},
            "y": {"field": "y", "type": "quantitative", "scale": {"domain": [-4, 0]}, "axis": {"title": "Chd decay (1/s)", "values": [-4, -3, -2, -1, 0], "labelExpr": "'10' + (datum.value < 0 ? '⁻' : '') + ['⁰','¹','²','³','⁴','⁵'][abs(datum.value)]"}},
            "color": {"field": "c", "type": "nominal", "scale": {"domain": ["Source-Sink", "Counter-Gradient", "Shuttling", "Transcriptional", "Failed to fit data"], "range": ["#0e0ea3", "#b3181b", "#27b33a", "#c07a26", "#8a8a8a"]}}
          },
          "layer": [
            {"mark": "circle", "transform": [{"filter": "datum.c != 'Shuttling'"}]},
            {"mark": "circle", "transform": [{"filter": "datum.c == 'Shuttling'"}], "encoding": {"x": {"field": "x", "type": "quantitative", "axis": {"orient": "top", "title": "Chd Diff vs Decay"}}}}
          ],
          "resolve": {"axis": {"x": "independent"}}
        },
        {
          "title": "C",
          "transform": [{"filter": "datum.p == 'C'"}],
          "encoding": {
            "x": {"field": "x", "type": "quantitative", "scale": {"domain": [-0.45, 3.55]}, "axis": {"title": "BMP Range (μm)", "values": [0, 1, 2, 3], "labelExpr": "'10' + (datum.value < 0 ? '⁻' : '') + ['⁰','¹','²','³','⁴','⁵'][abs(datum.value)]"}},
            "y": {"field": "y", "type": "quantitative", "scale": {"domain": [-1, 3]}, "axis": {"title": "Chd range (μm)", "values": [-1, 0, 1, 2, 3], "labelExpr": "'10' + (datum.value < 0 ? '⁻' : '') + ['⁰','¹','²','³','⁴','⁵'][abs(datum.value)]"}},
            "color": {"field": "c", "type": "nominal", "scale": {"domain": ["Source-Sink", "Counter-Gradient", "Shuttling", "Transcriptional", "Failed to fit data"], "range": ["#0e0ea3", "#b3181b", "#27b33a", "#c07a26", "#8a8a8a"]}}
          },
          "layer": [
            {"mark": "circle", "transform": [{"filter": "datum.c != 'Shuttling'"}]},
            {"mark": "circle", "transform": [{"filter": "datum.c == 'Shuttling'"}], "encoding": {"x": {"field": "x", "type": "quantitative", "axis": {"orient": "top", "title": "BMP vs Chd Range"}}}}
          ],
          "resolve": {"axis": {"x": "independent"}}
        },
        {
          "title": "D",
          "transform": [{"filter": "datum.p == 'D'"}],
          "encoding": {
            "x": {"field": "x", "type": "quantitative", "scale": {"domain": [-2, 2]}, "axis": {"title": "BMP-Chd diffusion (μm²/s)", "values": [-2, -1, 0, 1, 2], "labelExpr": "'10' + (datum.value < 0 ? '⁻' : '') + ['⁰','¹','²','³','⁴','⁵'][abs(datum.value)]"}},
            "y": {"field": "y", "type": "quantitative", "scale": {"domain": [-5, -1]}, "axis": {"title": "BMP-Chd decay (1/s)", "values": [-5, -4, -3, -2, -1], "labelExpr": "'10' + (datum.value < 0 ? '⁻' : '') + ['⁰','¹','²','³','⁴','⁵'][abs(datum.value)]"}},
            "color": {"field": "c", "type": "nominal", "scale": {"domain": ["Source-Sink", "Counter-Gradient", "Shuttling", "Transcriptional", "Failed to fit data"], "range": ["#0e0ea3", "#b3181b", "#27b33a", "#c07a26", "#8a8a8a"]}}
          },
          "layer": [
            {"mark": "circle", "transform": [{"filter": "datum.c != 'Shuttling'"}]},
            {"mark": "circle", "transform": [{"filter": "datum.c == 'Shuttling'"}], "encoding": {"x": {"field": "x", "type": "quantitative", "axis": {"orient": "top", "title": "BMP-Chd Diff vs Decay"}}}}
          ],
          "resolve": {"axis": {"x": "independent"}}
        },
        {
          "title": "E",
          "transform": [{"filter": "datum.p == 'E'"}],
          "encoding": {
            "x": {"field": "x", "type": "quantitative", "scale": {"domain": [-2, 2]}, "axis": {"title": "Nog diffusion (μm²/s)", "values": [-2, -1, 0, 1, 2], "labelExpr": "'10' + (datum.value < 0 ? '⁻' : '') + ['⁰','¹','²','³','⁴','⁵'][abs(datum.value)]"}},
            "y": {"field": "y", "type": "quantitative", "scale": {"domain": [-5, -1]}, "axis": {"title": "Nog decay (1/s)", "values": [-5, -4, -3, -2, -1], "labelExpr": "'10' + (datum.value < 0 ? '⁻' : '') + ['⁰','¹','²','³','⁴','⁵'][abs(datum.value)]"}},
            "color": {"field": "c", "type": "nominal", "scale": {"domain": ["Source-Sink", "Counter-Gradient", "Shuttling", "Transcriptional", "Failed to fit data"], "range": ["#0e0ea3", "#b3181b", "#27b33a", "#c07a26", "#8a8a8a"]}}
          },
          "layer": [
            {"mark": "circle", "transform": [{"filter": "datum.c != 'Shuttling'"}]},
            {"mark": "circle", "transform": [{"filter": "datum.c == 'Shuttling'"}], "encoding": {"x": {"field": "x", "type": "quantitative", "axis": {"orient": "top", "title": "Noggin Diff vs Decay"}}}}
          ],
          "resolve": {"axis": {"x": "independent"}}
        },
        {
          "title": "F",
          "transform": [{"filter": "datum.p == 'F'"}],
          "encoding": {
            "x": {"field": "x", "type": "quantitative", "scale": {"domain": [-4, 0]}, "axis": {"title": "Chd cleavage (1/s)", "values": [-4, -3, -2, -1, 0], "labelExpr": "'10' + (datum.value < 0 ? '⁻' : '') + ['⁰','¹','²','³','⁴','⁵'][abs(datum.value)]"}},
            "y": {"field": "y", "type": "quantitative", "scale": {"domain": [-4, 0]}, "axis": {"title": "BMP-Chd cleavage (1/s)", "values": [-4, -3, -2, -1, 0], "labelExpr": "'10' + (datum.value < 0 ? '⁻' : '') + ['⁰','¹','²','³','⁴','⁵'][abs(datum.value)]"}},
            "color": {"field": "c", "type": "nominal", "scale": {"domain": ["Source-Sink", "Counter-Gradient", "Shuttling", "Transcriptional", "Failed to fit data"], "range": ["#0e0ea3", "#b3181b", "#27b33a", "#c07a26", "#8a8a8a"]}}
          },
          "layer": [
            {"mark": "circle", "transform": [{"filter": "datum.c != 'Shuttling'"}]},
            {"mark": "circle", "transform": [{"filter": "datum.c == 'Shuttling'"}], "encoding": {"x": {"field": "x", "type": "quantitative", "axis": {"orient": "top", "title": "Tolloid Cleavage"}}}}
          ],
          "resolve": {"axis": {"x": "independent"}}
        }
      ]
    },
    {
      "title": {"text": ["bmp expression profile", "mirrors WT P-Smad (from Fig. 4E)"], "anchor": "middle", "frame": "bounds", "dx": -6, "offset": 4, "fontSize": 16, "lineHeight": 18},
      "columns": 2,
      "spacing": {"row": 6, "column": -6},
      "concat": [
        {
          "title": "G",
          "transform": [{"filter": "datum.p == 'G'"}],
          "encoding": {
            "x": {"field": "x", "type": "quantitative", "scale": {"domain": [-2, 2]}, "axis": {"title": "BMP diffusion (μm²/s)", "values": [-2, -1, 0, 1, 2], "labelExpr": "'10' + (datum.value < 0 ? '⁻' : '') + ['⁰','¹','²','³','⁴','⁵'][abs(datum.value)]"}},
            "y": {"field": "y", "type": "quantitative", "scale": {"domain": [-5, -1]}, "axis": {"title": "BMP decay (1/s)", "values": [-5, -4, -3, -2, -1], "labelExpr": "'10' + (datum.value < 0 ? '⁻' : '') + ['⁰','¹','²','³','⁴','⁵'][abs(datum.value)]"}},
            "color": {"field": "c", "type": "nominal", "scale": {"domain": ["Source-Sink", "Counter-Gradient", "Shuttling", "Transcriptional", "Failed to fit data"], "range": ["#0e0ea3", "#b3181b", "#27b33a", "#c07a26", "#8a8a8a"]}}
          },
          "layer": [
            {"mark": "circle", "transform": [{"filter": "datum.c != 'Shuttling'"}]},
            {"mark": "circle", "transform": [{"filter": "datum.c == 'Shuttling'"}], "encoding": {"x": {"field": "x", "type": "quantitative", "axis": {"orient": "top", "title": "BMP Diff vs Decay"}}}}
          ],
          "resolve": {"axis": {"x": "independent"}}
        },
        {
          "title": "H",
          "transform": [{"filter": "datum.p == 'H'"}],
          "encoding": {
            "x": {"field": "x", "type": "quantitative", "scale": {"domain": [-2, 2]}, "axis": {"title": "Chd diffusion (μm²/s)", "values": [-2, -1, 0, 1, 2], "labelExpr": "'10' + (datum.value < 0 ? '⁻' : '') + ['⁰','¹','²','³','⁴','⁵'][abs(datum.value)]"}},
            "y": {"field": "y", "type": "quantitative", "scale": {"domain": [-4, 0]}, "axis": {"title": "Chd decay (1/s)", "values": [-4, -3, -2, -1, 0], "labelExpr": "'10' + (datum.value < 0 ? '⁻' : '') + ['⁰','¹','²','³','⁴','⁵'][abs(datum.value)]"}},
            "color": {"field": "c", "type": "nominal", "scale": {"domain": ["Source-Sink", "Counter-Gradient", "Shuttling", "Transcriptional", "Failed to fit data"], "range": ["#0e0ea3", "#b3181b", "#27b33a", "#c07a26", "#8a8a8a"]}}
          },
          "layer": [
            {"mark": "circle", "transform": [{"filter": "datum.c != 'Shuttling'"}]},
            {"mark": "circle", "transform": [{"filter": "datum.c == 'Shuttling'"}], "encoding": {"x": {"field": "x", "type": "quantitative", "axis": {"orient": "top", "title": "Chd Diff vs Decay"}}}}
          ],
          "resolve": {"axis": {"x": "independent"}}
        },
        {
          "title": "I",
          "transform": [{"filter": "datum.p == 'I'"}],
          "encoding": {
            "x": {"field": "x", "type": "quantitative", "scale": {"domain": [-0.45, 3.55]}, "axis": {"title": "Bmp Range (μm)", "values": [0, 1, 2, 3], "labelExpr": "'10' + (datum.value < 0 ? '⁻' : '') + ['⁰','¹','²','³','⁴','⁵'][abs(datum.value)]"}},
            "y": {"field": "y", "type": "quantitative", "scale": {"domain": [-1, 3]}, "axis": {"title": "Chd range (μm)", "values": [-1, 0, 1, 2, 3], "labelExpr": "'10' + (datum.value < 0 ? '⁻' : '') + ['⁰','¹','²','³','⁴','⁵'][abs(datum.value)]"}},
            "color": {"field": "c", "type": "nominal", "scale": {"domain": ["Source-Sink", "Counter-Gradient", "Shuttling", "Transcriptional", "Failed to fit data"], "range": ["#0e0ea3", "#b3181b", "#27b33a", "#c07a26", "#8a8a8a"]}}
          },
          "layer": [
            {"mark": "circle", "transform": [{"filter": "datum.c != 'Shuttling'"}]},
            {"mark": "circle", "transform": [{"filter": "datum.c == 'Shuttling'"}], "encoding": {"x": {"field": "x", "type": "quantitative", "axis": {"orient": "top", "title": "BMP vs Chd Range"}}}}
          ],
          "resolve": {"axis": {"x": "independent"}}
        },
        {
          "title": "J",
          "transform": [{"filter": "datum.p == 'J'"}],
          "encoding": {
            "x": {"field": "x", "type": "quantitative", "scale": {"domain": [-2, 2]}, "axis": {"title": "BMP-Chd diffusion (μm²/s)", "values": [-2, -1, 0, 1, 2], "labelExpr": "'10' + (datum.value < 0 ? '⁻' : '') + ['⁰','¹','²','³','⁴','⁵'][abs(datum.value)]"}},
            "y": {"field": "y", "type": "quantitative", "scale": {"domain": [-5, -1]}, "axis": {"title": "BMP-Chd decay (1/s)", "values": [-5, -4, -3, -2, -1], "labelExpr": "'10' + (datum.value < 0 ? '⁻' : '') + ['⁰','¹','²','³','⁴','⁵'][abs(datum.value)]"}},
            "color": {"field": "c", "type": "nominal", "scale": {"domain": ["Source-Sink", "Counter-Gradient", "Shuttling", "Transcriptional", "Failed to fit data"], "range": ["#0e0ea3", "#b3181b", "#27b33a", "#c07a26", "#8a8a8a"]}}
          },
          "layer": [
            {"mark": "circle", "transform": [{"filter": "datum.c != 'Shuttling'"}]},
            {"mark": "circle", "transform": [{"filter": "datum.c == 'Shuttling'"}], "encoding": {"x": {"field": "x", "type": "quantitative", "axis": {"orient": "top", "title": "BMP-Chd Diff vs Decay"}}}}
          ],
          "resolve": {"axis": {"x": "independent"}}
        },
        {
          "title": "K",
          "transform": [{"filter": "datum.p == 'K'"}],
          "encoding": {
            "x": {"field": "x", "type": "quantitative", "scale": {"domain": [-2, 2]}, "axis": {"title": "Nog diffusion (μm²/s)", "values": [-2, -1, 0, 1, 2], "labelExpr": "'10' + (datum.value < 0 ? '⁻' : '') + ['⁰','¹','²','³','⁴','⁵'][abs(datum.value)]"}},
            "y": {"field": "y", "type": "quantitative", "scale": {"domain": [-5, -1]}, "axis": {"title": "Nog decay (1/s)", "values": [-5, -4, -3, -2, -1], "labelExpr": "'10' + (datum.value < 0 ? '⁻' : '') + ['⁰','¹','²','³','⁴','⁵'][abs(datum.value)]"}},
            "color": {"field": "c", "type": "nominal", "scale": {"domain": ["Source-Sink", "Counter-Gradient", "Shuttling", "Transcriptional", "Failed to fit data"], "range": ["#0e0ea3", "#b3181b", "#27b33a", "#c07a26", "#8a8a8a"]}}
          },
          "layer": [
            {"mark": "circle", "transform": [{"filter": "datum.c != 'Shuttling'"}]},
            {"mark": "circle", "transform": [{"filter": "datum.c == 'Shuttling'"}], "encoding": {"x": {"field": "x", "type": "quantitative", "axis": {"orient": "top", "title": "Noggin Diff vs Decay"}}}}
          ],
          "resolve": {"axis": {"x": "independent"}}
        },
        {
          "title": "L",
          "transform": [{"filter": "datum.p == 'L'"}],
          "encoding": {
            "x": {"field": "x", "type": "quantitative", "scale": {"domain": [-4, 0]}, "axis": {"title": "Chd cleavage", "values": [-4, -3, -2, -1, 0], "labelExpr": "'10' + (datum.value < 0 ? '⁻' : '') + ['⁰','¹','²','³','⁴','⁵'][abs(datum.value)]"}},
            "y": {"field": "y", "type": "quantitative", "scale": {"domain": [-4, 0]}, "axis": {"title": "BMP-Chd cleavage", "values": [-4, -3, -2, -1, 0], "labelExpr": "'10' + (datum.value < 0 ? '⁻' : '') + ['⁰','¹','²','³','⁴','⁵'][abs(datum.value)]"}},
            "color": {"field": "c", "type": "nominal", "scale": {"domain": ["Source-Sink", "Counter-Gradient", "Shuttling", "Transcriptional", "Failed to fit data"], "range": ["#0e0ea3", "#b3181b", "#27b33a", "#c07a26", "#8a8a8a"]}}
          },
          "layer": [
            {"mark": "circle", "transform": [{"filter": "datum.c != 'Shuttling'"}]},
            {"mark": "circle", "transform": [{"filter": "datum.c == 'Shuttling'"}], "encoding": {"x": {"field": "x", "type": "quantitative", "axis": {"orient": "top", "title": "Tolloid Cleavage"}}}}
          ],
          "resolve": {"axis": {"x": "independent"}}
        }
      ]
    }
  ],
  "config": {
    "font": "Liberation Sans",
    "view": {"continuousWidth": 113, "continuousHeight": 90, "stroke": "#333333", "strokeWidth": 1.4, "fill": "#dcdcdc"},
    "circle": {"size": 20, "opacity": 1},
    "axis": {"grid": false, "domain": false, "ticks": false, "labelFont": "Liberation Sans", "labelFontSize": 9, "labelColor": "#333333", "labelPadding": 3, "labelFlush": false, "labelOverlap": false, "titleFont": "Liberation Sans", "titleFontSize": 9.5, "titleFontWeight": "normal", "titleColor": "#333333", "titlePadding": 3},
    "axisTop": {"labels": false, "ticks": false, "titleFont": "Open Sans", "titleFontSize": 11, "titleColor": "#000000", "titlePadding": -2},
    "title": {"fontSize": 16, "fontWeight": "normal", "anchor": "start", "frame": "bounds", "offset": -13, "baseline": "bottom", "color": "#000000", "font": "Liberation Sans"},
    "legend": {"symbolSize": 0, "symbolOpacity": 0, "symbolStrokeWidth": 0, "labelOffset": 0, "columnPadding": 0, "labelFont": "Open Sans", "labelFontSize": 10.5, "strokeColor": "#333333", "padding": 1, "offset": 10, "layout": {"bottom": {"anchor": "middle"}}}
  }
}
